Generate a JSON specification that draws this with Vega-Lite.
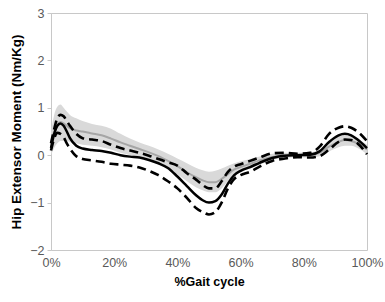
{
  "$schema": "https://vega.github.io/schema/vega-lite/v6.json",
  "autosize": "none",
  "width": 316,
  "height": 237,
  "padding": {"left": 51, "top": 13, "right": 18, "bottom": 52},
  "background": "white",
  "config": {
    "view": {"stroke": "#c8c8c8", "strokeWidth": 1},
    "font": "Liberation Sans"
  },
  "data": {"values": [
    {"p": 0, "mean": 0.15, "up": 0.25, "lo": 0.1, "nlo": 0.0, "nhi": 0.5, "nm": 0.25},
    {"p": 1, "mean": 0.45, "up": 0.55, "lo": 0.35, "nlo": 0.15, "nhi": 0.85, "nm": 0.5},
    {"p": 2, "mean": 0.62, "up": 0.78, "lo": 0.47, "nlo": 0.25, "nhi": 1.02, "nm": 0.65},
    {"p": 3, "mean": 0.67, "up": 0.85, "lo": 0.45, "nlo": 0.3, "nhi": 1.07, "nm": 0.7},
    {"p": 4, "mean": 0.62, "up": 0.82, "lo": 0.38, "nlo": 0.3, "nhi": 1.0, "nm": 0.67},
    {"p": 5, "mean": 0.5, "up": 0.72, "lo": 0.25, "nlo": 0.3, "nhi": 0.92, "nm": 0.62},
    {"p": 6, "mean": 0.36, "up": 0.62, "lo": 0.14, "nlo": 0.28, "nhi": 0.85, "nm": 0.57},
    {"p": 8, "mean": 0.2, "up": 0.45, "lo": -0.02, "nlo": 0.25, "nhi": 0.78, "nm": 0.52},
    {"p": 10, "mean": 0.14, "up": 0.36, "lo": -0.08, "nlo": 0.22, "nhi": 0.72, "nm": 0.5},
    {"p": 13, "mean": 0.11, "up": 0.33, "lo": -0.11, "nlo": 0.2, "nhi": 0.66, "nm": 0.46},
    {"p": 16, "mean": 0.09, "up": 0.3, "lo": -0.14, "nlo": 0.17, "nhi": 0.62, "nm": 0.42},
    {"p": 19, "mean": 0.05, "up": 0.22, "lo": -0.18, "nlo": 0.12, "nhi": 0.56, "nm": 0.35},
    {"p": 22, "mean": 0.0, "up": 0.15, "lo": -0.2, "nlo": 0.05, "nhi": 0.45, "nm": 0.27},
    {"p": 25, "mean": -0.03, "up": 0.1, "lo": -0.22, "nlo": 0.0, "nhi": 0.35, "nm": 0.2},
    {"p": 28, "mean": -0.05, "up": 0.05, "lo": -0.26, "nlo": -0.05, "nhi": 0.27, "nm": 0.13},
    {"p": 31, "mean": -0.1, "up": -0.01, "lo": -0.33, "nlo": -0.1, "nhi": 0.2, "nm": 0.06},
    {"p": 34, "mean": -0.17, "up": -0.08, "lo": -0.42, "nlo": -0.17, "nhi": 0.12, "nm": -0.02},
    {"p": 37, "mean": -0.27, "up": -0.15, "lo": -0.55, "nlo": -0.27, "nhi": 0.03, "nm": -0.12},
    {"p": 40, "mean": -0.45, "up": -0.22, "lo": -0.7, "nlo": -0.4, "nhi": -0.07, "nm": -0.23},
    {"p": 43, "mean": -0.65, "up": -0.38, "lo": -0.9, "nlo": -0.55, "nhi": -0.17, "nm": -0.36},
    {"p": 46, "mean": -0.85, "up": -0.52, "lo": -1.12, "nlo": -0.68, "nhi": -0.27, "nm": -0.47},
    {"p": 48, "mean": -0.95, "up": -0.63, "lo": -1.2, "nlo": -0.74, "nhi": -0.32, "nm": -0.53},
    {"p": 50, "mean": -1.0, "up": -0.7, "lo": -1.25, "nlo": -0.78, "nhi": -0.35, "nm": -0.57},
    {"p": 52, "mean": -0.97, "up": -0.7, "lo": -1.2, "nlo": -0.78, "nhi": -0.33, "nm": -0.57},
    {"p": 54, "mean": -0.83, "up": -0.55, "lo": -1.0, "nlo": -0.7, "nhi": -0.28, "nm": -0.5},
    {"p": 56, "mean": -0.6, "up": -0.35, "lo": -0.7, "nlo": -0.55, "nhi": -0.22, "nm": -0.4},
    {"p": 58, "mean": -0.42, "up": -0.24, "lo": -0.5, "nlo": -0.42, "nhi": -0.17, "nm": -0.3},
    {"p": 60, "mean": -0.33, "up": -0.19, "lo": -0.42, "nlo": -0.35, "nhi": -0.13, "nm": -0.25},
    {"p": 63, "mean": -0.25, "up": -0.12, "lo": -0.35, "nlo": -0.28, "nhi": -0.08, "nm": -0.18},
    {"p": 66, "mean": -0.16, "up": -0.05, "lo": -0.24, "nlo": -0.2, "nhi": -0.03, "nm": -0.11},
    {"p": 70, "mean": -0.06, "up": 0.04, "lo": -0.12, "nlo": -0.1, "nhi": 0.03, "nm": -0.04},
    {"p": 74, "mean": -0.01, "up": 0.05, "lo": -0.07, "nlo": -0.06, "nhi": 0.05, "nm": 0.0},
    {"p": 78, "mean": 0.0, "up": 0.03, "lo": -0.04, "nlo": -0.05, "nhi": 0.05, "nm": 0.0},
    {"p": 82, "mean": 0.01, "up": 0.05, "lo": -0.05, "nlo": -0.05, "nhi": 0.06, "nm": 0.0},
    {"p": 85, "mean": 0.08, "up": 0.18, "lo": -0.02, "nlo": -0.02, "nhi": 0.12, "nm": 0.05},
    {"p": 88, "mean": 0.28, "up": 0.45, "lo": 0.12, "nlo": 0.08, "nhi": 0.3, "nm": 0.18},
    {"p": 91, "mean": 0.42, "up": 0.58, "lo": 0.28, "nlo": 0.17, "nhi": 0.42, "nm": 0.28},
    {"p": 93, "mean": 0.45, "up": 0.61, "lo": 0.33, "nlo": 0.2, "nhi": 0.45, "nm": 0.32},
    {"p": 95, "mean": 0.42, "up": 0.58, "lo": 0.32, "nlo": 0.2, "nhi": 0.43, "nm": 0.3},
    {"p": 97, "mean": 0.33, "up": 0.5, "lo": 0.25, "nlo": 0.15, "nhi": 0.36, "nm": 0.25},
    {"p": 100, "mean": 0.15, "up": 0.3, "lo": 0.02, "nlo": 0.02, "nhi": 0.22, "nm": 0.12}
  ]},
  "encoding": {
    "x": {
      "field": "p", "type": "quantitative",
      "scale": {"domain": [0, 100], "nice": false, "zero": false},
      "axis": {
        "values": [0, 20, 40, 60, 80, 100],
        "labelExpr": "datum.value + '%'",
        "title": "%Gait cycle",
        "titleFont": "Liberation Sans", "titleFontSize": 12.5, "titleFontWeight": "bold", "titleColor": "#000000",
        "titlePadding": 7,
        "labelFont": "Liberation Sans", "labelFontSize": 12.5, "labelColor": "#595959",
        "labelPadding": 6,
        "ticks": false, "domain": false, "grid": false,
        "labelFlush": false
      }
    }
  },
  "layer": [
    {
      "mark": {"type": "area", "color": "#d9d9d9", "interpolate": "monotone"},
      "encoding": {
        "y": {
          "field": "nlo", "type": "quantitative",
          "scale": {"domain": [-2, 3], "nice": false},
          "axis": {
            "values": [-2, -1, 0, 1, 2, 3],
            "title": "Hip Extensor Moment (Nm/Kg)",
            "titleFont": "Liberation Sans", "titleFontSize": 13.5, "titleFontWeight": "bold", "titleColor": "#000000",
            "titlePadding": 6,
            "labelFont": "Liberation Sans", "labelFontSize": 12.5, "labelColor": "#595959",
            "labelPadding": 3,
            "ticks": true, "tickSize": 4, "tickColor": "#c8c8c8",
            "domain": true, "domainColor": "#c8c8c8",
            "grid": false
          }
        },
        "y2": {"field": "nhi"}
      }
    },
    {
      "mark": {"type": "rule", "color": "#c8c8c8", "strokeWidth": 1},
      "encoding": {"y": {"datum": 0, "type": "quantitative"}}
    },
    {
      "mark": {"type": "line", "color": "#a6a6a6", "strokeWidth": 2, "interpolate": "monotone"},
      "encoding": {"y": {"field": "nm", "type": "quantitative"}}
    },
    {
      "mark": {"type": "line", "color": "#000000", "strokeWidth": 2.6, "strokeDash": [9, 5], "interpolate": "monotone"},
      "encoding": {"y": {"field": "up", "type": "quantitative"}}
    },
    {
      "mark": {"type": "line", "color": "#000000", "strokeWidth": 2.6, "strokeDash": [9, 5], "interpolate": "monotone"},
      "encoding": {"y": {"field": "lo", "type": "quantitative"}}
    },
    {
      "mark": {"type": "line", "color": "#000000", "strokeWidth": 2.5, "interpolate": "monotone"},
      "encoding": {"y": {"field": "mean", "type": "quantitative"}}
    }
  ]
}
